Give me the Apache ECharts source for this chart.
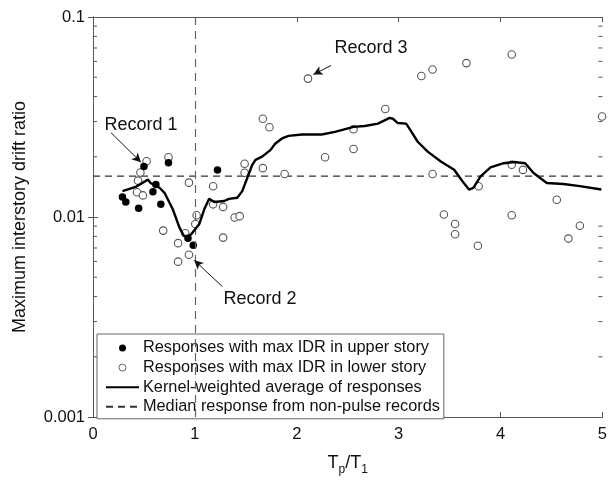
<!DOCTYPE html>
<html>
<head>
<meta charset="utf-8">
<script src="https://cdn.jsdelivr.net/npm/echarts@6/dist/echarts.min.js"></script>
<style>
  html, body { margin: 0; padding: 0; background: #fff; }
  #chart { width: 610px; height: 481px; }
</style>
</head>
<body>
<div id="chart"></div>
<script>
// ─── data ───────────────────────────────────────────────────────────────────
const upperX = [0.289, 0.322, 0.448, 0.5, 0.588, 0.617, 0.666, 0.741, 0.932, 0.984, 1.222];
const upperY = [0.01258, 0.01189, 0.01105, 0.0179, 0.01337, 0.01452, 0.01157, 0.0187, 0.00783, 0.00723, 0.0172];

const lowerX = [0.432, 0.442, 0.465, 0.49, 0.526, 0.689, 0.741, 0.835, 0.835, 0.906, 0.942, 0.942,
  1.004, 1.017, 1.179, 1.179, 1.277, 1.277, 1.39, 1.44, 1.488, 1.488, 1.667, 1.667, 1.732, 1.881,
  2.11, 2.278, 2.557, 2.557, 2.869, 3.223, 3.333, 3.333, 3.444, 3.554, 3.554, 3.665, 3.778, 3.785,
  4.11, 4.11, 4.11, 4.22, 4.552, 4.666, 4.779, 4.997];
const lowerY = [0.0133, 0.0152, 0.0167, 0.01282, 0.019, 0.00855, 0.0199, 0.0074, 0.00598, 0.0083, 0.00648, 0.01485,
  0.00922, 0.0102, 0.01426, 0.01157, 0.01123, 0.00789, 0.00994, 0.0101, 0.01845, 0.01665, 0.031, 0.01755, 0.0281, 0.0164,
  0.0492, 0.0199, 0.02746, 0.02186, 0.0347, 0.0507, 0.0546, 0.0164, 0.01029, 0.00922, 0.0082, 0.0588, 0.00718, 0.01426,
  0.0649, 0.01824, 0.0102, 0.0172, 0.0122, 0.0078, 0.00904, 0.0318];

const kernelX = [0.289, 0.426, 0.539, 0.565, 0.653, 0.702, 0.783, 0.848, 0.89, 0.929, 0.962, 1.043, 1.092,
  1.14, 1.189, 1.287, 1.335, 1.416, 1.465, 1.514, 1.563, 1.595, 1.66, 1.741, 1.79, 1.855, 1.92, 2.05,
  2.245, 2.375, 2.557, 2.667, 2.797, 2.862, 2.911, 2.943, 2.992, 3.073, 3.106, 3.187, 3.285, 3.414,
  3.545, 3.626, 3.691, 3.733, 3.804, 3.902, 4.032, 4.13, 4.242, 4.324, 4.454, 4.617, 4.779, 4.99];
const kernelY = [0.01347, 0.0142, 0.01538, 0.0148, 0.014, 0.01321, 0.01093, 0.00887, 0.00807, 0.00798, 0.00817, 0.00922, 0.01093,
  0.01234, 0.01189, 0.01202, 0.01232, 0.01248, 0.01347, 0.01567, 0.01824, 0.0193, 0.02005, 0.0216, 0.02333, 0.0247, 0.02546, 0.02584,
  0.02584, 0.02665, 0.02821, 0.0285, 0.0293, 0.0304, 0.0313, 0.031, 0.0295, 0.0293, 0.02767, 0.02378, 0.02123, 0.01895,
  0.01722, 0.01509, 0.01372, 0.01397, 0.01597, 0.0177, 0.01858, 0.01883, 0.01858, 0.0166, 0.0148, 0.01462, 0.01426, 0.01372];

const medianIDR = 0.016;
const pulseRatio = 1;

const yTickLabels = ['0.001', '0.01', '0.1'];
const yMinorTicks = [0.002, 0.003, 0.004, 0.005, 0.006, 0.007, 0.008, 0.009,
  0.02, 0.03, 0.04, 0.05, 0.06, 0.07, 0.08, 0.09];

// annotations: arrow start / tip in data coords, label centre in px
const recordNames = ['Record 1', 'Record 2', 'Record 3'];
const arrowFrom = [[0.178, 0.02636], [1.27, 0.00449], [2.336, 0.0572]];
const arrowTo = [[0.47, 0.0188], [0.994, 0.00608], [2.164, 0.0516]];
const recordTextPx = [[141, 125], [260, 299], [371, 48]];

// ─── build ──────────────────────────────────────────────────────────────────
const zip = (xs, ys) => xs.map((x, i) => [x, ys[i]]);

const AXIS = '#555';
const FONT = 'Liberation Sans, Arial, Helvetica, sans-serif';

const chart = echarts.init(document.getElementById('chart'), null, { renderer: 'canvas' });

const commonX = {
  type: 'value', min: 0, max: 5, interval: 1,
  splitLine: { show: false },
  axisLine: { lineStyle: { color: AXIS, width: 1 } },
  axisTick: { inside: true, length: 5, lineStyle: { color: AXIS } },
};
const commonY = {
  type: 'log', logBase: 10, min: 0.001, max: 0.1,
  splitLine: { show: false },
  axisLine: { show: true, lineStyle: { color: AXIS, width: 1 } },
  axisTick: { inside: true, length: 5, lineStyle: { color: AXIS } },
};

const option = {
  animation: false,
  backgroundColor: '#fff',
  textStyle: { fontFamily: FONT },
  grid: { left: 93, top: 17, width: 513, height: 404 },
  xAxis: [
    Object.assign({}, commonX, {
      position: 'bottom',
      axisLabel: { color: '#111', fontSize: 16.5, margin: 9, fontFamily: FONT },
      name: '{a|T}{s|p}{a|/T}{s|1}',
      nameLocation: 'middle',
      nameGap: 37,
      nameTextStyle: {
        rich: {
          a: { fontSize: 18, color: '#111', fontFamily: FONT, verticalAlign: 'top', lineHeight: 22 },
          s: { fontSize: 12, color: '#111', fontFamily: FONT, verticalAlign: 'bottom', lineHeight: 22, padding: [4, 0, 0, 0] },
        },
      },
    }),
    Object.assign({}, commonX, { position: 'top', axisLabel: { show: false } }),
  ],
  yAxis: [
    Object.assign({}, commonY, {
      position: 'left',
      axisLabel: {
        color: '#111', fontSize: 16.5, margin: 8, fontFamily: FONT,
        formatter: (v) => {
          const s = yTickLabels.find((t) => Math.abs(parseFloat(t) - v) < v * 1e-6);
          return s || '';
        },
      },
      name: 'Maximum interstory drift ratio',
      nameLocation: 'middle',
      nameGap: 64,
      nameTextStyle: { fontSize: 18, color: '#111', fontFamily: FONT },
    }),
    Object.assign({}, commonY, { position: 'right', axisLabel: { show: false } }),
  ],
  legend: {
    orient: 'vertical',
    left: 97, top: 334,
    padding: [6, 4, 4, 8],
    backgroundColor: '#fff',
    borderColor: '#666', borderWidth: 1,
    itemWidth: 33, itemHeight: 7, itemGap: 3.6,
    textStyle: { fontSize: 16.3, lineHeight: 15, color: '#111', fontFamily: FONT, padding: [0, 0, 0, -1] },
    data: [
      { name: 'Responses with max IDR in upper story', icon: 'circle', itemStyle: { color: '#000', opacity: 1 } },
      { name: 'Responses with max IDR in lower story', icon: 'circle', itemStyle: { color: '#fff', borderColor: '#666', borderWidth: 1 } },
      { name: 'Kernel-weighted average of responses', itemStyle: { opacity: 0 } },
      { name: 'Median response from non-pulse records', itemStyle: { opacity: 0 } },
    ],
  },
  series: [
    {
      name: 'Median response from non-pulse records',
      type: 'line',
      data: [[0, medianIDR], [5, medianIDR]],
      symbol: 'none',
      itemStyle: { color: '#333' },
      lineStyle: { color: '#333', width: 1.2, type: [7, 5] },
      z: 1,
      markLine: {
        silent: true, symbol: 'none', label: { show: false },
        lineStyle: { color: '#666', width: 1.2, type: [8, 6] },
        data: [{ xAxis: pulseRatio }],
      },
    },
    {
      name: 'Responses with max IDR in lower story',
      type: 'scatter',
      data: zip(lowerX, lowerY),
      symbol: 'circle', symbolSize: 7.5,
      itemStyle: { color: '#fff', borderColor: '#555', borderWidth: 1.1, opacity: 1 },
      z: 3,
    },
    {
      name: 'Responses with max IDR in upper story',
      type: 'scatter',
      data: zip(upperX, upperY),
      symbol: 'circle', symbolSize: 7.5,
      itemStyle: { color: '#000', opacity: 1 },
      z: 4,
    },
    {
      name: 'Kernel-weighted average of responses',
      type: 'line',
      data: zip(kernelX, kernelY),
      symbol: 'none',
      itemStyle: { color: '#000' },
      lineStyle: { color: '#000', width: 2.4 },
      z: 5,
      markLine: {
        silent: true,
        symbol: ['none', 'arrow'],
        symbolSize: [7, 9],
        label: { show: false },
        lineStyle: { color: '#111', width: 1, type: 'solid' },
        data: arrowFrom.map((a, i) => [{ coord: a }, { coord: arrowTo[i] }]),
      },
    },
    {
      // minor ticks of the log axis on both sides of the box
      type: 'custom',
      silent: true,
      data: yMinorTicks.map((v) => [0, v]),
      renderItem: (params, api) => {
        const cs = params.coordSys;
        const y = api.coord([0, api.value(1)])[1];
        const st = { stroke: AXIS, lineWidth: 1 };
        return {
          type: 'group',
          children: [
            { type: 'line', shape: { x1: cs.x, y1: y, x2: cs.x + 4, y2: y }, style: st },
            { type: 'line', shape: { x1: cs.x + cs.width - 4, y1: y, x2: cs.x + cs.width, y2: y }, style: st },
          ],
        };
      },
      z: 6,
    },
  ],
  graphic: recordNames.map((name, i) => ({
    type: 'text',
    x: recordTextPx[i][0], y: recordTextPx[i][1],
    style: {
      text: name, fill: '#111', fontSize: 18, fontFamily: FONT,
      textAlign: 'center', textVerticalAlign: 'middle',
    },
    z: 10,
  })),
};

chart.setOption(option);
</script>
</body>
</html>
